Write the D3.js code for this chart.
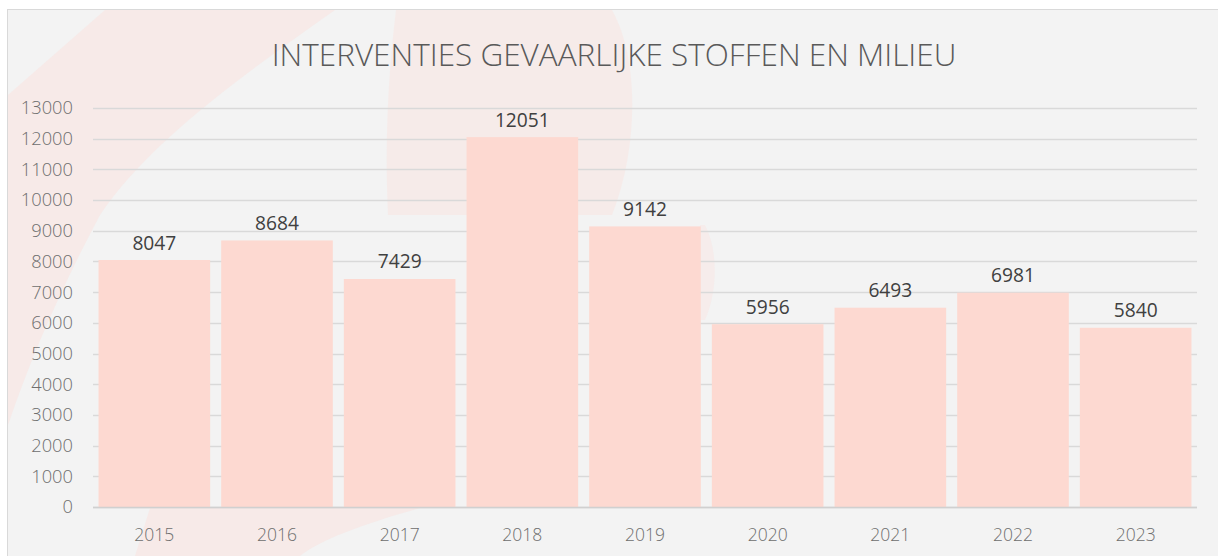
<!DOCTYPE html>
<html><head><meta charset="utf-8">
<script src="https://cdn.jsdelivr.net/npm/d3@7"></script>
<style>
html,body{margin:0;padding:0;background:#fff;}
svg{display:block;font-family:"Open Sans","Noto Sans",sans-serif;}
</style></head>
<body>
<svg id="chart" width="1218" height="556"></svg>
<script>
const categories = ["2015","2016","2017","2018","2019","2020","2021","2022","2023"];
const values = [8047,8684,7429,12051,9142,5956,6493,6981,5840];
const yTicks = [0,1000,2000,3000,4000,5000,6000,7000,8000,9000,10000,11000,12000,13000];
const title = "INTERVENTIES GEVAARLIJKE STOFFEN EN MILIEU";

const svg = d3.select("#chart");
const W = 1218, H = 556;
const m = {left: 93, right: 21, top: 108, bottom: 49};

// panel
svg.append("rect").attr("x",7.5).attr("y",9.5).attr("width",W).attr("height",H)
  .attr("fill","#f3f3f3").attr("stroke","#d9d9d9");

// faint watermark shapes
const wm = svg.append("g").attr("fill","#fbe2de");
wm.append("path").attr("d","M105,10 L335,10 C250,70 150,140 100,215 C60,290 30,360 8,425 L8,95 Z").attr("opacity",0.5);
wm.append("path").attr("d","M396,10 L612,10 C640,60 638,150 612,215 L388,215 C384,130 390,60 396,10 Z").attr("opacity",0.45);
wm.append("path").attr("d","M135,556 L150,508 L420,508 C360,525 320,540 300,556 Z").attr("opacity",0.5);
wm.append("path").attr("d","M705,225 C718,250 718,290 705,320 L700,320 L700,225 Z").attr("opacity",0.4);

const x = d3.scaleBand().domain(categories).range([m.left, W - m.right]).paddingInner(0.09).paddingOuter(0.045);
const y = d3.scaleLinear().domain([0,13000]).range([H - m.bottom, m.top]);

// grid
svg.append("g").selectAll("line").data(yTicks).join("line")
  .attr("x1", m.left).attr("x2", W - m.right)
  .attr("y1", d => Math.round(y(d))+0.5).attr("y2", d => Math.round(y(d))+0.5)
  .attr("stroke","#d9d9d9").attr("stroke-width",1.3);

// y axis labels
const yAxis = d3.axisLeft(y).tickValues(yTicks).tickSize(0).tickPadding(0).tickFormat(d3.format("d"));
const ya = svg.append("g").attr("transform",`translate(${m.left-20},0)`).call(yAxis);
ya.select(".domain").remove();
ya.selectAll("text").attr("fill","#6e6e6e").style("font-size","18.3px").style("font-weight","300")
  .style("font-family","'Open Sans',sans-serif");

// bars
svg.append("g").selectAll("rect").data(values).join("rect")
  .attr("x",(d,i)=>x(categories[i])).attr("width",x.bandwidth())
  .attr("y",d=>y(d)).attr("height",d=>y(0)-y(d))
  .attr("fill","#fdd9d1");

// value labels
svg.append("g").selectAll("text").data(values).join("text")
  .attr("x",(d,i)=>x(categories[i])+x.bandwidth()/2)
  .attr("y",d=>y(d)-10.5)
  .attr("text-anchor","middle").attr("fill","#404040")
  .style("font-size","19.2px").text(d=>d);

// x axis
const xAxis = d3.axisBottom(x).tickSize(0).tickPadding(22);
const xa = svg.append("g").attr("transform",`translate(0,${y(0)})`).call(xAxis);
xa.select(".domain").remove();
xa.selectAll("text").attr("fill","#6e6e6e").style("font-size","17.5px").style("font-weight","300")
  .style("font-family","'Open Sans',sans-serif");
svg.append("line").attr("x1",m.left).attr("x2",W-m.right).attr("y1",Math.round(y(0))+0.5).attr("y2",Math.round(y(0))+0.5)
  .attr("stroke","#d0d0d0").attr("stroke-width",1.3);

// title
svg.append("text").attr("x",614).attr("y",66).attr("text-anchor","middle")
  .attr("fill","#595959").style("font-size","31.5px").style("font-weight","300").text(title);
</script>
</body></html>
